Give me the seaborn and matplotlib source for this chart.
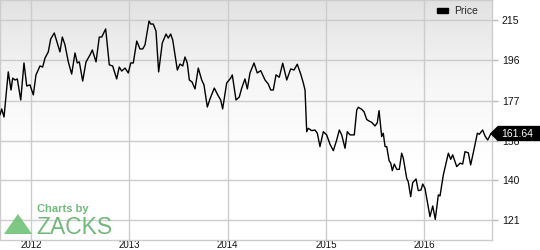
import numpy as np
import pandas as pd
import matplotlib
matplotlib.use("Agg")
import matplotlib.pyplot as plt
import seaborn as sns
from matplotlib.patches import Polygon, Patch
from matplotlib.colors import LinearSegmentedColormap

# ---- data ----
years = [
    2011.685, 2011.702, 2011.726, 2011.769, 2011.797, 2011.814, 2011.838, 2011.861, 2011.896, 2011.929,
    2011.957, 2011.990, 2012.024, 2012.051, 2012.092, 2012.119, 2012.143, 2012.176, 2012.201, 2012.237,
    2012.268, 2012.295, 2012.319, 2012.346, 2012.380, 2012.414, 2012.448, 2012.471, 2012.492, 2012.526,
    2012.560, 2012.601, 2012.624, 2012.662, 2012.695, 2012.720, 2012.760, 2012.797, 2012.831, 2012.872,
    2012.898, 2012.923, 2012.957, 2012.990, 2013.015, 2013.041, 2013.076, 2013.109, 2013.137, 2013.160,
    2013.201, 2013.218, 2013.244, 2013.272, 2013.299, 2013.336, 2013.374, 2013.397, 2013.421, 2013.442,
    2013.489, 2013.516, 2013.544, 2013.567, 2013.590, 2013.611, 2013.638, 2013.669, 2013.702, 2013.737,
    2013.760, 2013.794, 2013.821, 2013.865, 2013.900, 2013.930, 2013.950, 2013.991, 2014.032, 2014.048,
    2014.086, 2014.119, 2014.144, 2014.177, 2014.201, 2014.228, 2014.269, 2014.302, 2014.337, 2014.381,
    2014.414, 2014.439, 2014.465, 2014.493, 2014.526, 2014.561, 2014.602, 2014.642, 2014.676, 2014.709,
    2014.744, 2014.770, 2014.788, 2014.805, 2014.821, 2014.856, 2014.889, 2014.913, 2014.940, 2014.974,
    2015.008, 2015.042, 2015.076, 2015.110, 2015.137, 2015.161, 2015.195, 2015.218, 2015.246, 2015.289,
    2015.314, 2015.330, 2015.365, 2015.388, 2015.415, 2015.432, 2015.466, 2015.500, 2015.523, 2015.541,
    2015.568, 2015.584, 2015.602, 2015.619, 2015.643, 2015.660, 2015.676, 2015.696, 2015.721, 2015.747,
    2015.771, 2015.788, 2015.822, 2015.838, 2015.863, 2015.883, 2015.917, 2015.940, 2015.968, 2015.985,
    2016.008, 2016.026, 2016.059, 2016.087, 2016.113, 2016.144, 2016.161, 2016.195, 2016.219, 2016.246,
    2016.270, 2016.290, 2016.331, 2016.365, 2016.392, 2016.415, 2016.449, 2016.473, 2016.507, 2016.541,
    2016.561, 2016.595, 2016.619, 2016.646, 2016.680,
]
prices = [
    170.4, 173.2, 169.4, 190.6, 182.1, 187.7, 186.8, 187.3, 177.4, 194.8,
    184.0, 184.5, 179.8, 189.2, 193.4, 192.9, 197.1, 200.0, 206.1, 208.9,
    204.2, 200.0, 207.0, 203.3, 195.3, 189.6, 199.5, 194.8, 195.3, 186.3,
    195.3, 198.6, 200.9, 195.3, 207.0, 207.0, 210.8, 193.9, 193.4, 187.3,
    192.9, 191.0, 192.4, 190.1, 194.8, 194.8, 205.1, 201.4, 201.4, 203.3,
    214.5, 213.1, 213.1, 209.8, 190.6, 204.2, 208.4, 206.5, 208.4, 205.6,
    191.5, 194.3, 193.4, 197.6, 194.8, 186.8, 185.9, 182.6, 192.4, 186.8,
    184.5, 174.1, 177.9, 183.0, 179.8, 177.4, 173.2, 185.4, 187.7, 189.2,
    177.4, 178.8, 183.0, 187.3, 182.6, 190.1, 194.8, 190.1, 191.2, 186.8,
    184.9, 182.1, 182.1, 189.2, 188.1, 194.7, 186.8, 192.0, 191.5, 194.2,
    189.6, 185.5, 182.1, 162.5, 164.1, 163.0, 163.3, 161.8, 155.5, 162.5,
    161.0, 156.6, 153.6, 158.6, 163.3, 161.0, 154.7, 162.5, 161.0, 161.0,
    172.7, 174.0, 173.0, 171.9, 168.3, 167.7, 166.9, 165.2, 166.7, 172.4,
    160.2, 161.8, 155.5, 155.5, 148.9, 147.7, 144.2, 147.3, 144.8, 144.8,
    152.4, 150.0, 140.6, 139.0, 132.0, 138.5, 140.3, 134.8, 135.1, 137.9,
    135.9, 131.2, 122.6, 127.6, 121.3, 132.8, 132.3, 142.2, 146.9, 152.4,
    149.5, 151.6, 146.1, 147.7, 147.3, 153.1, 152.6, 146.9, 154.2, 161.8,
    161.3, 163.3, 160.5, 158.6, 161.64,
]
year_ticks = [2012, 2013, 2014, 2015, 2016]
price_ticks = [121, 140, 158, 177, 196, 215]
series_name = "Price"
last_label = "161.64"
watermark_top = "Charts by"
watermark_brand = "ZACKS"

df = pd.DataFrame({"year": years, "price": prices})

sns.set_theme(style="white")
plt.rcParams["font.family"] = ["Liberation Sans", "DejaVu Sans"]

W, H = 540, 250
fig = plt.figure(figsize=(W / 100, H / 100), dpi=100)
fig.patch.set_facecolor("white")
ax = fig.add_axes([0, 1 - 240 / H, 492 / W, 240 / H])

# gradient background (grey at top fading to white)
cmap = LinearSegmentedColormap.from_list("bg", ["#e2e2e2", "#f6f6f6", "#ffffff", "#ffffff"])
grad = np.linspace(0, 1, 256).reshape(-1, 1)
ax.imshow(grad, extent=[0, 1, 0, 1], transform=ax.transAxes, cmap=cmap,
          aspect="auto", zorder=0, interpolation="bilinear")

sns.lineplot(data=df, x="year", y="price", ax=ax, color="black", linewidth=1.0,
             zorder=3, legend=False)

ax.set_xlim(2011.685, 2016.69)
ax.set_ylim(111.6, 224.4)
ax.set_xticks(year_ticks)
ax.set_xticklabels([str(y) for y in year_ticks])
ax.set_yticks(price_ticks)
ax.set_yticklabels([str(p) for p in price_ticks])
ax.yaxis.tick_right()
ax.grid(True, color="#cccccc", linewidth=1.0, zorder=1)
ax.set_axisbelow(True)
ax.tick_params(axis="y", which="both", length=4, width=1, color="#bbbbbb",
               pad=3, labelsize=7.5, labelcolor="#111111", right=True, left=False)
ax.tick_params(axis="x", which="both", length=0, pad=0, labelsize=7, labelcolor="#111111")
ax.set_xlabel("")
ax.set_ylabel("")
for s in ax.spines.values():
    s.set_color("#cccccc")
    s.set_linewidth(1.0)

# legend
leg = ax.legend(handles=[Patch(facecolor="black", edgecolor="black")], labels=[series_name],
                loc="upper right", frameon=False, fontsize=7.5, handlelength=1.1,
                handleheight=0.45, handletextpad=0.6, borderaxespad=0.2,
                bbox_to_anchor=(0.985, 1.0))

# last value badge
fig.canvas.draw()
disp = ax.transData.transform((years[-1], prices[-1]))
px, py = disp
pinv = fig.transFigure.inverted()
h = 7
pts = [(px, py), (px + 7, py + h), (W + 2, py + h), (W + 2, py - h), (px + 7, py - h)]
badge = Polygon([pinv.transform(p) for p in pts], closed=True, facecolor="black",
                edgecolor="black", transform=fig.transFigure, zorder=10)
fig.patches.append(badge)
tx, ty = pinv.transform((px + 10, py))
fig.text(tx, ty, last_label, color="white", fontsize=7.5, ha="left", va="center", zorder=11)

# watermark
green = "#72b97c"
tri = Polygon([(4 / W, 1 - 234 / H), (32 / W, 1 - 234 / H), (18 / W, 1 - 214 / H)],
              closed=True, facecolor="#6fc276", edgecolor="none", alpha=0.9,
              transform=fig.transFigure, zorder=5)
fig.patches.append(tri)
fig.text(37 / W, 1 - 211.5 / H, watermark_top, color=green, fontsize=8, fontweight="bold",
         ha="left", va="baseline")
fig.text(36 / W, 1 - 233.5 / H, watermark_brand, color=green, fontsize=16.5,
         ha="left", va="baseline")

fig.savefig("out.png", dpi=100)
